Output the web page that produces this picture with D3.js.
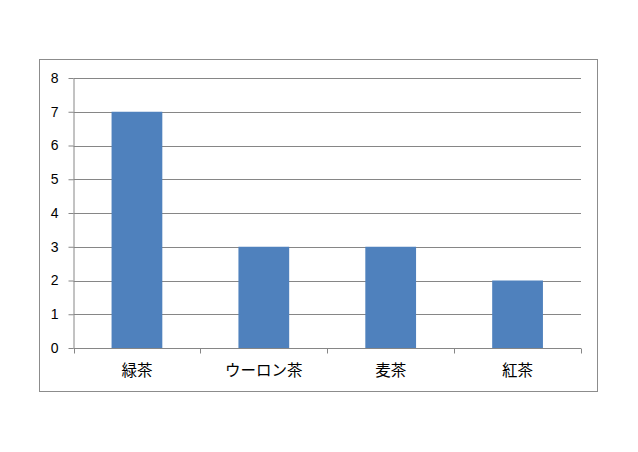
<!DOCTYPE html>
<html>
<head>
<meta charset="utf-8">
<script src="https://cdn.jsdelivr.net/npm/d3@7"></script>
<style>
  body { margin: 0; background: #fff; }
  svg { display: block; }
</style>
</head>
<body>
<svg id="svg" width="638" height="452"></svg>
<script>
// data
const categories = ["緑茶", "ウーロン茶", "麦茶", "紅茶"];
const values = [7, 3, 3, 2];
const yTicks = [0, 1, 2, 3, 4, 5, 6, 7, 8];

const svg = d3.select("#svg");

// outer chart frame
svg.append("rect")
  .attr("x", 39.5).attr("y", 59.5)
  .attr("width", 558).attr("height", 332)
  .attr("fill", "#fff")
  .attr("stroke", "#8c8c8c");

const plot = { left: 73.5, right: 581, top: 78, bottom: 348 };

const x = d3.scaleBand()
  .domain(categories)
  .range([plot.left, plot.right])
  .paddingInner(0.6)
  .paddingOuter(0.3);

const y = d3.scaleLinear()
  .domain([0, 8])
  .range([plot.bottom, plot.top]);

// gridlines
svg.append("g")
  .selectAll("line")
  .data(yTicks.filter(d => d > 0))
  .enter()
  .append("line")
  .attr("x1", plot.left).attr("x2", plot.right)
  .attr("y1", d => Math.round(y(d)) + 0.5)
  .attr("y2", d => Math.round(y(d)) + 0.5)
  .attr("stroke", "#868686");

// bars
svg.append("g")
  .selectAll("rect")
  .data(values)
  .enter()
  .append("rect")
  .attr("x", (d, i) => x(categories[i]))
  .attr("width", x.bandwidth())
  .attr("y", d => y(d))
  .attr("height", d => y(0) - y(d))
  .attr("fill", "#4f81bd");

// y axis
const yAxis = svg.append("g")
  .attr("transform", `translate(${plot.left},0)`)
  .call(d3.axisLeft(y).tickValues(yTicks).tickSize(5).tickPadding(10).tickSizeOuter(0));
yAxis.select(".domain").attr("stroke", "#868686");
yAxis.selectAll(".tick line").attr("stroke", "#868686");
yAxis.selectAll("text")
  .attr("fill", "#000")
  .style("font-family", "'Liberation Sans', sans-serif")
  .style("font-size", "14px");

// x axis: ticks at category boundaries
const xAxisG = svg.append("g")
  .attr("transform", `translate(0,${plot.bottom + 0.5})`);
xAxisG.append("line")
  .attr("x1", plot.left).attr("x2", plot.right)
  .attr("stroke", "#868686");
const step = x.step();
const boundaries = d3.range(categories.length + 1).map(i => plot.left + i * step);
xAxisG.selectAll(".xt")
  .data(boundaries)
  .enter()
  .append("line")
  .attr("class", "xt")
  .attr("x1", d => Math.round(d) + 0.5).attr("x2", d => Math.round(d) + 0.5)
  .attr("y1", 0).attr("y2", 5)
  .attr("stroke", "#868686");
xAxisG.selectAll(".xl")
  .data(categories)
  .enter()
  .append("text")
  .attr("class", "xl")
  .attr("x", d => x(d) + x.bandwidth() / 2)
  .attr("y", 27)
  .attr("text-anchor", "middle")
  .style("font-family", "'Noto Sans CJK JP', sans-serif")
  .style("font-size", "15.5px")
  .attr("fill", "#000")
  .text(d => d);
</script>
</body>
</html>
